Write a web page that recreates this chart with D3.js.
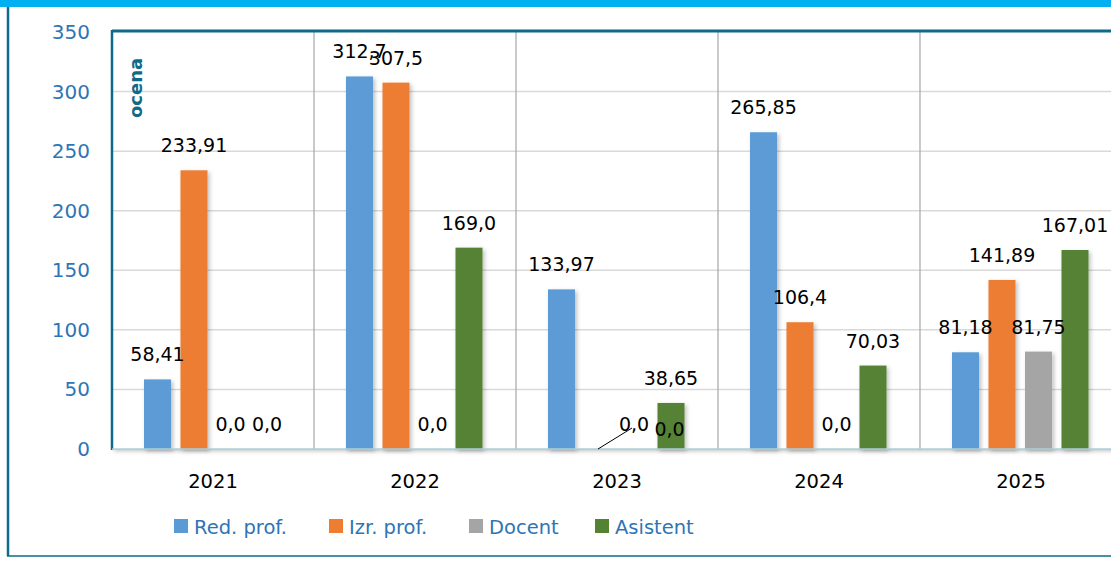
<!DOCTYPE html>
<html>
<head>
<meta charset="utf-8">
<script src="https://cdn.jsdelivr.net/npm/d3@7"></script>
<style>
  body { margin: 0; background: #fff; }
  svg { display: block; font-family: "DejaVu Sans", sans-serif; }
</style>
</head>
<body>
<div id="chart"></div>
<script>
var svgWidth = 1111;
var svgHeight = 577;

// data
var years = ["2021", "2022", "2023", "2024", "2025"];
var seriesNames = ["Red. prof.", "Izr. prof.", "Docent", "Asistent"];
var redProf = [58.41, 312.7, 133.97, 265.85, 81.18];
var izrProf = [233.91, 307.5, 0, 106.4, 141.89];
var docent = [0, 0, 0, 0, 81.75];
var asistent = [0, 169.0, 38.65, 70.03, 167.01];
var labelText = [
  ["58,41", "312,7", "133,97", "265,85", "81,18"],
  ["233,91", "307,5", "0,0", "106,4", "141,89"],
  ["0,0", "0,0", "0,0", "0,0", "81,75"],
  ["0,0", "169,0", "38,65", "70,03", "167,01"]
];
var yTicks = [0, 50, 100, 150, 200, 250, 300, 350];
var colors = ["#5b9bd5", "#ed7d31", "#a5a5a5", "#548235"];

var allSeries = [redProf, izrProf, docent, asistent];

var svg = d3.select("#chart").append("svg")
  .attr("width", svgWidth)
  .attr("height", svgHeight);

var defs = svg.append("defs");
var shadow = defs.append("filter").attr("id", "shadow")
  .attr("x", "-20%").attr("y", "-20%").attr("width", "150%").attr("height", "150%");
shadow.append("feDropShadow")
  .attr("dx", 2).attr("dy", 2).attr("stdDeviation", 2)
  .attr("flood-color", "#000").attr("flood-opacity", 0.25);

// outer frame
svg.append("rect").attr("x", 0).attr("y", 0).attr("width", svgWidth).attr("height", 7)
  .attr("fill", "#00b0f0");
svg.append("line").attr("x1", 8).attr("x2", 8).attr("y1", 7).attr("y2", 556)
  .attr("stroke", "#0f6a8a").attr("stroke-width", 2.5);
svg.append("line").attr("x1", 7).attr("x2", svgWidth).attr("y1", 556).attr("y2", 556)
  .attr("stroke", "#0f6a8a").attr("stroke-width", 1.5);

var plotLeft = 112, plotTop = 32, plotBottom = 449;

var x = d3.scaleBand().domain(years).range([plotLeft, plotLeft + 202 * 5]);
var xSub = d3.scaleBand().domain(d3.range(4)).range([32, 168.5]).paddingInner(0.26);
var y = d3.scaleLinear().domain([0, 350]).range([plotBottom, plotTop]);

// plot frame with shadow
svg.append("rect")
  .attr("x", plotLeft).attr("y", plotTop - 1)
  .attr("width", svgWidth - plotLeft + 10).attr("height", plotBottom - plotTop + 1)
  .attr("fill", "#fff")
  .attr("filter", "url(#shadow)");

// gridlines
svg.append("g").selectAll("line")
  .data(yTicks.filter(d => d > 0 && d < 350))
  .enter().append("line")
  .attr("x1", plotLeft).attr("x2", svgWidth)
  .attr("y1", d => y(d)).attr("y2", d => y(d))
  .attr("stroke", "#d9d9d9").attr("stroke-width", 1.5);

// category separators
svg.append("g").selectAll("line")
  .data(years.slice(1))
  .enter().append("line")
  .attr("x1", d => x(d)).attr("x2", d => x(d))
  .attr("y1", plotTop).attr("y2", plotBottom)
  .attr("stroke", "#a6a6a6").attr("stroke-width", 1.2);

// bars
var barData = [];
allSeries.forEach(function(values, s) {
  values.forEach(function(v, i) {
    barData.push({ s: s, year: years[i], value: v, label: labelText[s][i] });
  });
});

svg.append("g").selectAll("rect")
  .data(barData.filter(d => d.value > 0))
  .enter().append("rect")
  .attr("x", d => x(d.year) + xSub(d.s))
  .attr("y", d => y(d.value))
  .attr("width", xSub.bandwidth())
  .attr("height", d => y(0) - y(d.value))
  .attr("fill", d => colors[d.s])
  .attr("filter", "url(#shadow)");

// frame borders
svg.append("line").attr("x1", plotLeft).attr("x2", svgWidth).attr("y1", plotTop - 1).attr("y2", plotTop - 1)
  .attr("stroke", "#0f6a8a").attr("stroke-width", 3);
svg.append("line").attr("x1", plotLeft).attr("x2", plotLeft).attr("y1", plotTop - 2).attr("y2", plotBottom + 1)
  .attr("stroke", "#0f6a8a").attr("stroke-width", 2.5);
svg.append("line").attr("x1", plotLeft).attr("x2", svgWidth).attr("y1", plotBottom).attr("y2", plotBottom)
  .attr("stroke", "#a9d0d8").attr("stroke-width", 1.5);
svg.append("line").attr("x1", plotLeft).attr("x2", svgWidth).attr("y1", plotBottom + 1.5).attr("y2", plotBottom + 1.5)
  .attr("stroke", "#3d8aa0").attr("stroke-width", 1.2)
  .attr("filter", "url(#shadow)");

// moved labels (2023 Izr. prof. with leader line, 2023 Docent)
var labelShift = { "1-2023": [36, 0], "2-2023": [35, 5] };

svg.append("g").selectAll("text")
  .data(barData)
  .enter().append("text")
  .attr("x", function(d) {
    var sh = labelShift[d.s + "-" + d.year] || [0, 0];
    return x(d.year) + xSub(d.s) + xSub.bandwidth() / 2 + sh[0];
  })
  .attr("y", function(d) {
    var sh = labelShift[d.s + "-" + d.year] || [0, 0];
    return y(d.value) - 18 + sh[1];
  })
  .attr("text-anchor", "middle")
  .attr("font-size", 19)
  .attr("fill", "#000")
  .text(d => d.label);

// leader line for the moved 0,0 label
svg.append("line")
  .attr("x1", x("2023") + xSub(1) + xSub.bandwidth() / 2)
  .attr("y1", y(0))
  .attr("x2", x("2023") + xSub(1) + xSub.bandwidth() / 2 + 34)
  .attr("y2", y(0) - 21)
  .attr("stroke", "#000").attr("stroke-width", 1);

// y axis labels
svg.append("g").selectAll("text")
  .data(yTicks)
  .enter().append("text")
  .attr("x", 90)
  .attr("y", d => y(d) + 7)
  .attr("text-anchor", "end")
  .attr("font-size", 20)
  .attr("fill", "#2e75b6")
  .text(d => d);

// x axis labels
svg.append("g").selectAll("text")
  .data(years)
  .enter().append("text")
  .attr("x", d => x(d) + x.bandwidth() / 2)
  .attr("y", 488)
  .attr("text-anchor", "middle")
  .attr("font-size", 19.5)
  .attr("fill", "#000")
  .text(d => d);

// axis title
svg.append("text")
  .attr("transform", "translate(142, 88) rotate(-90)")
  .attr("text-anchor", "middle")
  .attr("font-size", 18)
  .attr("font-weight", "bold")
  .attr("fill", "#0f6a8a")
  .text("ocena");

// legend
var legendX = [174, 329, 469, 595];
var legend = svg.append("g").selectAll("g")
  .data(seriesNames)
  .enter().append("g")
  .attr("transform", (d, i) => `translate(${legendX[i]}, 519)`);
legend.append("rect")
  .attr("width", 14).attr("height", 14)
  .attr("fill", (d, i) => colors[i]);
legend.append("text")
  .attr("x", 20).attr("y", 15)
  .attr("font-size", 19.5)
  .attr("fill", "#2e75b6")
  .text(d => d);
</script>
</body>
</html>
